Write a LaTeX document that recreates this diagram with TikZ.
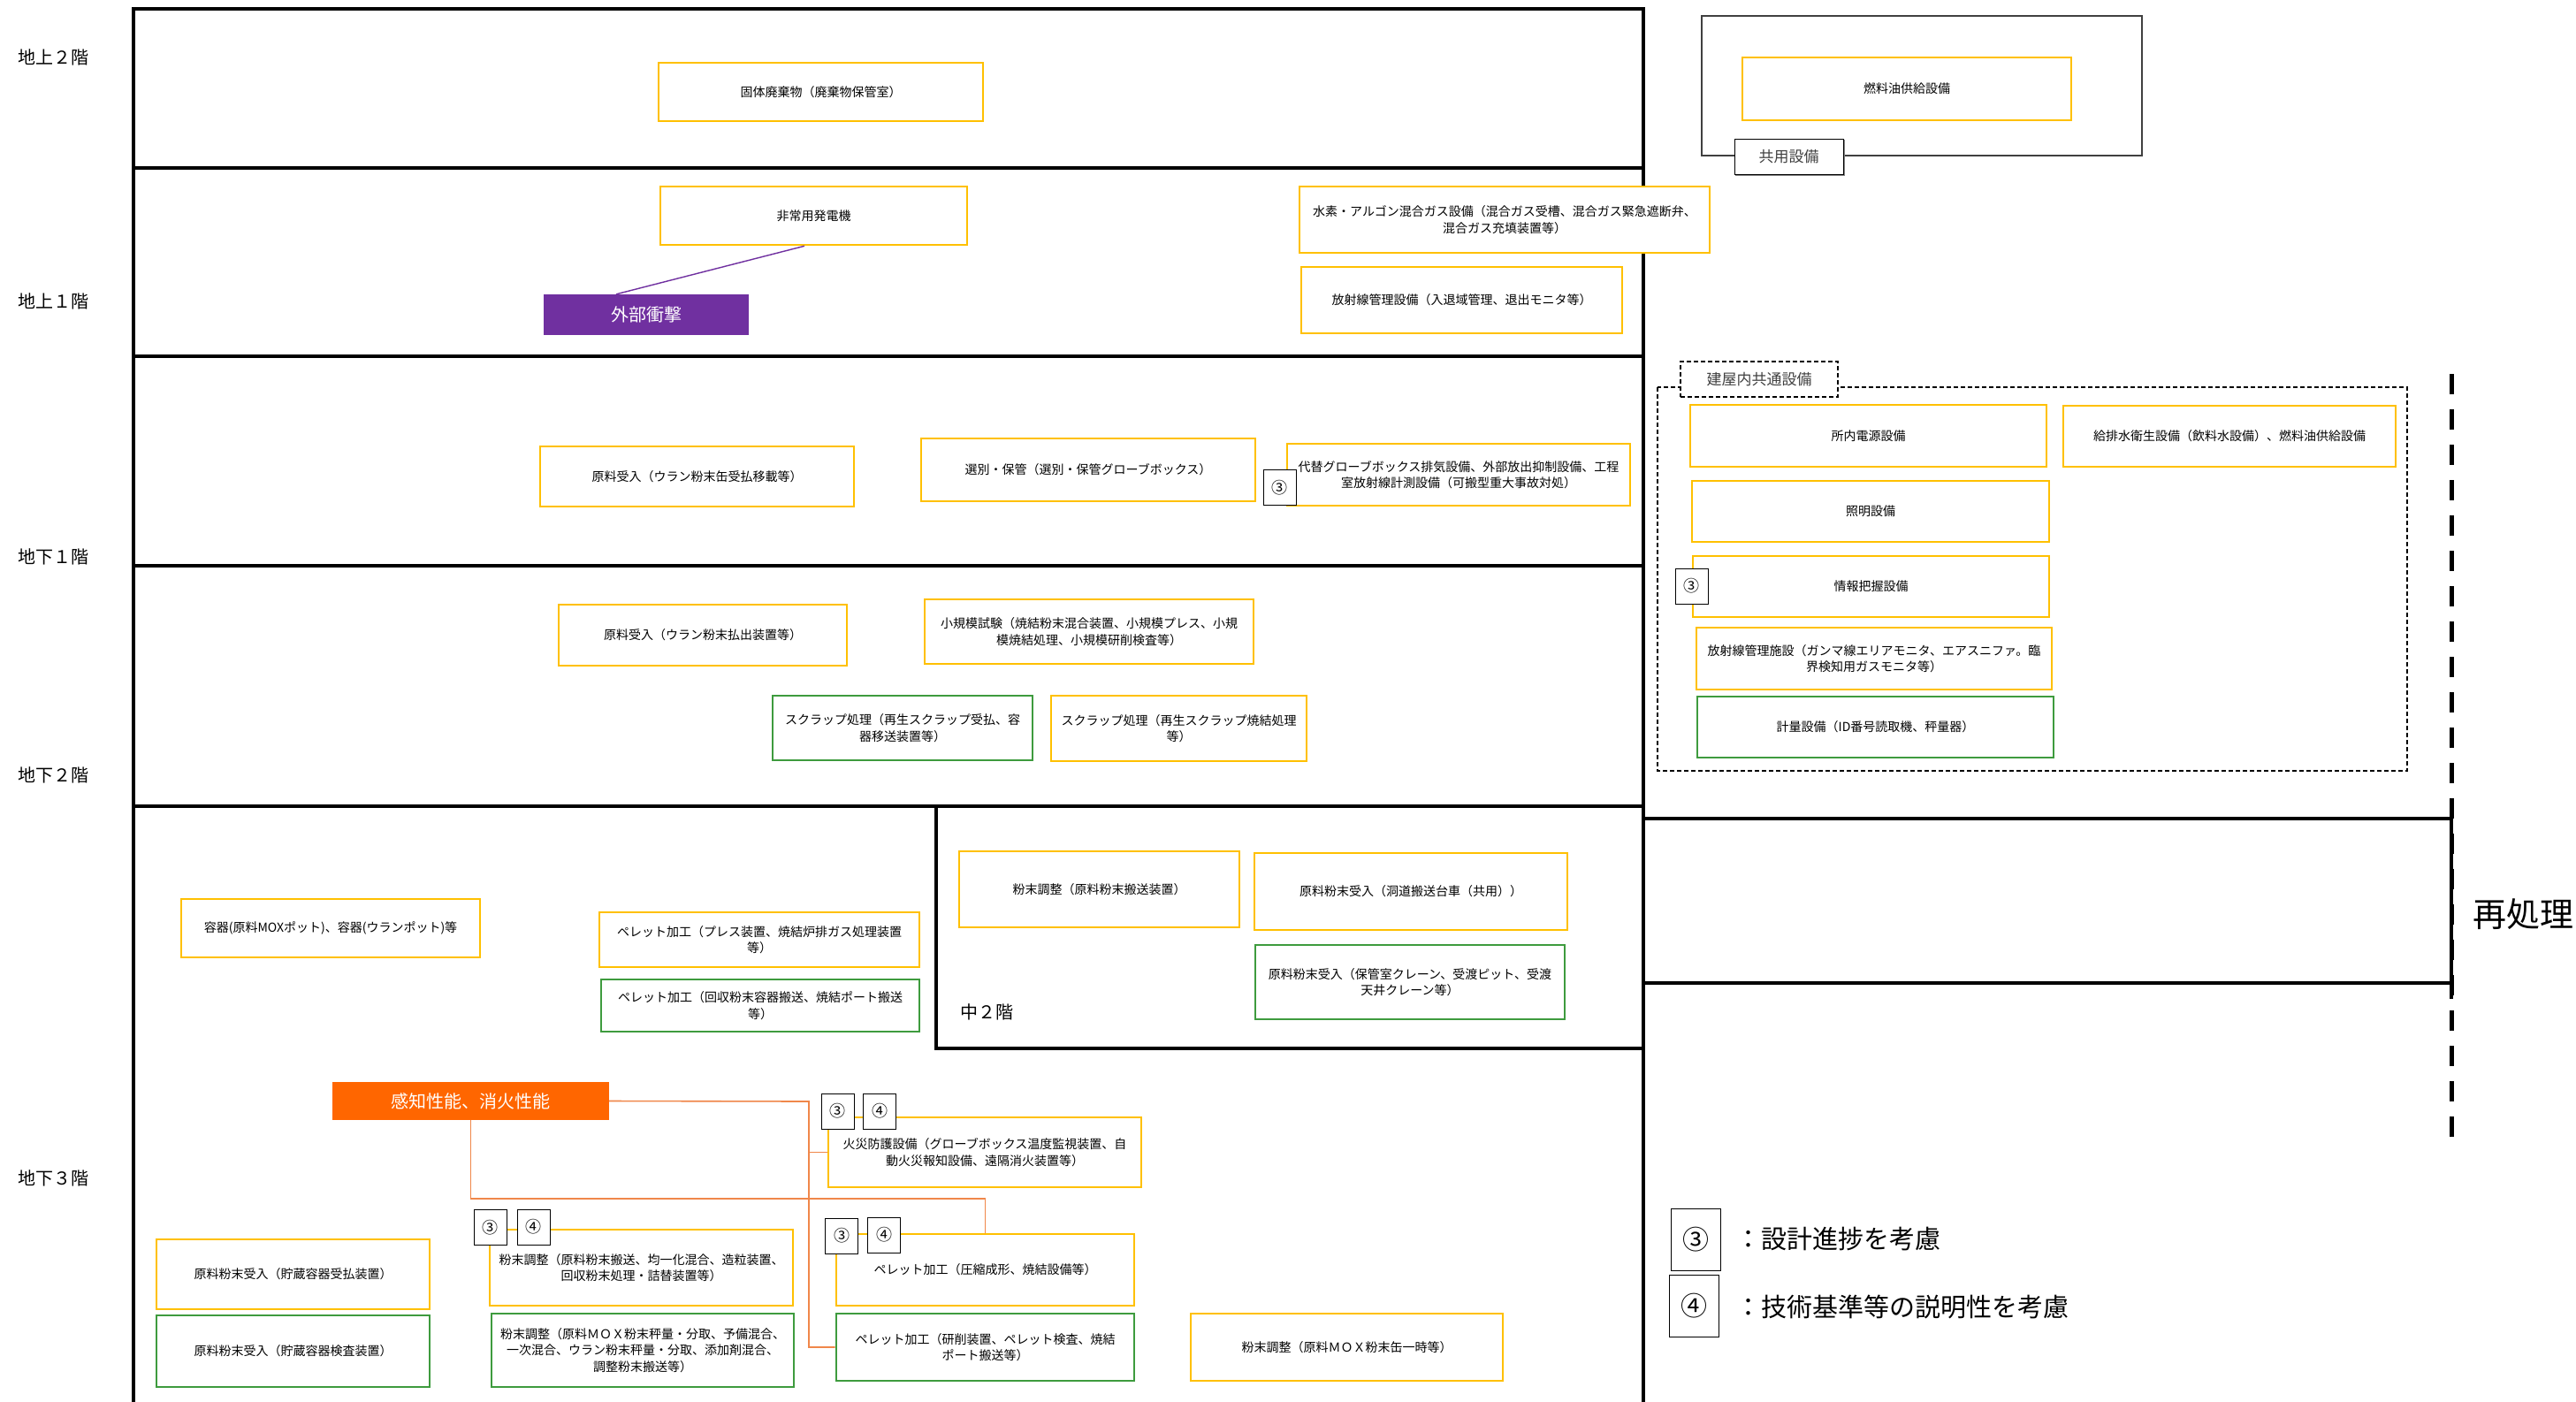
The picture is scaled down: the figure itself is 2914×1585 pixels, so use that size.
\documentclass[tikz,border=0pt]{standalone}
\usepackage{fontspec}
\setmainfont{Noto Sans CJK JP}
\definecolor{ylw}{HTML}{FFC000}
\definecolor{grn}{HTML}{3E9B3E}
\definecolor{purp}{HTML}{7030A0}
\definecolor{orn}{HTML}{FF6600}
\definecolor{ornline}{HTML}{F0874A}
\tikzset{
  bx/.style={draw, line width=2.6pt, fill=white, align=center, inner sep=0pt, font=\fontsize{14}{18.5}\selectfont},
  ybox/.style={bx, draw=ylw},
  gbox/.style={bx, draw=grn},
  numbox/.style={draw=black, line width=1pt, fill=white, minimum width=37pt, minimum height=40pt, inner sep=0pt, font=\fontsize{18}{18}\selectfont},
  legbox/.style={draw=black, line width=1pt, fill=white, minimum width=56pt, minimum height=70pt, inner sep=0pt, font=\fontsize{30}{30}\selectfont},
  wall/.style={line width=3.5pt, line cap=rect},
  floorlbl/.style={font=\fontsize{20}{20}\selectfont, inner sep=0pt},
  legtxt/.style={font=\fontsize{29}{29}\selectfont, anchor=west, inner sep=0pt},
  ornconn/.style={draw=ornline, line width=1.6pt},
}
\begin{document}
\begin{tikzpicture}[x=1pt,y=-1pt]
\useasboundingbox (0,0) rectangle (2914,1585);
\fill[white] (0,0) rectangle (2914,1585);

% building frame
\draw[wall] (151,1600) -- (151,10) -- (1859,10) -- (1859,1600);
\foreach \yy in {190,403,640,912} \draw[wall] (151,\yy) -- (1859,\yy);
\draw[wall] (1059,912) -- (1059,1186) -- (1859,1186);
% reprocessing
\draw[wall] (1859,926) -- (2773,926);
\draw[wall] (1859,1112) -- (2773,1112);
\draw[line width=5pt, dash pattern=on 23pt off 17pt] (2773,423) -- (2773,1290);
\draw[line width=4pt] (2773,907) -- (2773,1130);
\node[font=\fontsize{38}{38}\selectfont, anchor=west, inner sep=0pt] (saishori) at (2797,1034) {再処理};

% floor labels
\node[floorlbl] (f2) at (60,65) {地上２階};
\node[floorlbl] (f1) at (60,341) {地上１階};
\node[floorlbl] (b1) at (60,630) {地下１階};
\node[floorlbl] (b2) at (60,877) {地下２階};
\node[floorlbl] (b3) at (60,1333) {地下３階};
\node[floorlbl, anchor=west] (m2) at (1086,1145) {中２階};

% shared facility
\draw[line width=1.5pt, draw=black!75] (1925,18) rectangle (2423,176);
\node[ybox, minimum width=372pt, minimum height=71pt] (nenryo) at (2157,100.5) {燃料油供給設備};
\draw[draw=black!50, line width=2pt] (1963,198) -- (2086,198) -- (2086,158);
\node[draw=black, line width=1pt, fill=white, minimum width=123pt, minimum height=40pt, inner sep=0pt, text=black!75, font=\fontsize{17}{17}\selectfont] (kyoyo) at (2023.5,177) {共用設備};

% common in-building facility
\draw[line width=1.2pt, dash pattern=on 5pt off 3pt] (1875,438) rectangle (2723,872);
\node[draw=black, line width=1.2pt, dash pattern=on 5pt off 3pt, fill=white, minimum width=178pt, minimum height=40pt, inner sep=0pt, text=black!75, font=\fontsize{17}{17}\selectfont] (kyotsu) at (1990,429) {建屋内共通設備};
\node[ybox, minimum width=403pt, minimum height=70pt] (shonai) at (2113.5,493) {所内電源設備};
\node[ybox, minimum width=376pt, minimum height=69pt] (kyuhai) at (2522,493.5) {給排水衛生設備（飲料水設備）、燃料油供給設備};
\node[ybox, minimum width=404pt, minimum height=69pt] (shomei) at (2116,578.5) {照明設備};
\node[ybox, minimum width=403pt, minimum height=69pt] (joho) at (2116.5,663.5) {情報把握設備};
\node[numbox] (joho3) at (1913.5,663) {③};
\node[ybox, minimum width=402pt, minimum height=70pt] (hosha2) at (2120,745) {放射線管理施設（ガンマ線エリアモニタ、エアスニファ。臨\\界検知用ガスモニタ等）};
\node[gbox, minimum width=403pt, minimum height=69pt] (keiryo) at (2121.5,822.5) {計量設備（ID番号読取機、秤量器）};

% 2F
\node[ybox, minimum width=367pt, minimum height=66pt] (kotai) at (928.5,104) {固体廃棄物（廃棄物保管室）};
% 1F
\node[ybox, minimum width=347pt, minimum height=66pt] (hijo) at (920.5,244) {非常用発電機};
\node[fill=purp, minimum width=232pt, minimum height=46pt, inner sep=0pt, text=white, font=\fontsize{20}{20}\selectfont] (gaibu) at (731,356) {外部衝撃};
\draw[draw=purp, line width=1.4pt] ([xshift=-34pt]gaibu.north) -- ([xshift=-10.5pt]hijo.south);
\node[ybox, minimum width=464pt, minimum height=75pt] (suiso) at (1702,248.5) {水素・アルゴン混合ガス設備（混合ガス受槽、混合ガス緊急遮断弁、\\混合ガス充填装置等）};
\node[ybox, minimum width=363pt, minimum height=75pt] (hosha1) at (1653.5,339.5) {放射線管理設備（入退域管理、退出モニタ等）};

% B1
\node[ybox, minimum width=355pt, minimum height=68pt] (genryo1) at (788.5,539) {原料受入（ウラン粉末缶受払移載等）};
\node[ybox, minimum width=378pt, minimum height=71pt] (senbetsu) at (1231,531.5) {選別・保管（選別・保管グローブボックス）};
\node[ybox, minimum width=388pt, minimum height=70pt] (daitai) at (1650,537) {代替グローブボックス排気設備、外部放出抑制設備、工程\\室放射線計測設備（可搬型重大事故対処）};
\node[numbox] (daitai3) at (1447.5,551.5) {③};

% B2
\node[ybox, minimum width=326pt, minimum height=69pt] (genryo2) at (795,718.5) {原料受入（ウラン粉末払出装置等）};
\node[ybox, minimum width=372pt, minimum height=73pt] (shokibo) at (1232,714.5) {小規模試験（焼結粉末混合装置、小規模プレス、小規\\模焼結処理、小規模研削検査等）};
\node[gbox, minimum width=294pt, minimum height=73pt] (scrap1) at (1021,823.5) {スクラップ処理（再生スクラップ受払、容\\器移送装置等）};
\node[ybox, minimum width=289pt, minimum height=74pt] (scrap2) at (1333.5,824) {スクラップ処理（再生スクラップ焼結処理\\等）};

% B3 upper / mezzanine
\node[ybox, minimum width=338pt, minimum height=66pt] (yoki) at (374,1050) {容器(原料MOXポット)、容器(ウランポット)等};
\node[ybox, minimum width=362pt, minimum height=62pt] (pellet1) at (859,1063) {ペレット加工（プレス装置、焼結炉排ガス処理装置\\等）};
\node[gbox, minimum width=360pt, minimum height=59pt] (pellet2) at (860,1137.5) {ペレット加工（回収粉末容器搬送、焼結ポート搬送\\等）};
\node[ybox, minimum width=317pt, minimum height=86pt] (funm1) at (1243.5,1006) {粉末調整（原料粉末搬送装置）};
\node[ybox, minimum width=354pt, minimum height=87pt] (genfun1) at (1596,1008.5) {原料粉末受入（洞道搬送台車（共用））};
\node[gbox, minimum width=350pt, minimum height=84pt] (genfun2) at (1595,1111) {原料粉末受入（保管室クレーン、受渡ピット、受渡\\天井クレーン等）};

% B3 lower
\node[fill=orn, minimum width=313pt, minimum height=43pt, inner sep=0pt, text=white, font=\fontsize{20}{20}\selectfont] (kanchi) at (532.5,1245.5) {感知性能、消火性能};
\node[ybox, minimum width=354pt, minimum height=79pt] (kasai) at (1114,1303.5) {火災防護設備（グローブボックス温度監視装置、自\\動火災報知設備、遠隔消火装置等）};
\node[ybox, minimum width=343pt, minimum height=86pt] (funm2) at (725.5,1434) {粉末調整（原料粉末搬送、均一化混合、造粒装置、\\回収粉末処理・詰替装置等）};
\node[ybox, minimum width=337pt, minimum height=81pt] (pellet3) at (1114.5,1436.5) {ペレット加工（圧縮成形、焼結設備等）};
\node[ybox, minimum width=309pt, minimum height=79pt] (genfun3) at (331.5,1441.5) {原料粉末受入（貯蔵容器受払装置）};
\node[gbox, minimum width=309pt, minimum height=81pt] (genfun4) at (331.5,1528.5) {原料粉末受入（貯蔵容器検査装置）};
\node[gbox, minimum width=342pt, minimum height=83pt] (funm3) at (727,1527.5) {粉末調整（原料ＭＯＸ粉末秤量・分取、予備混合、\\一次混合、ウラン粉末秤量・分取、添加剤混合、\\調整粉末搬送等）};
\node[gbox, minimum width=337pt, minimum height=76pt] (pellet4) at (1114.5,1524) {ペレット加工（研削装置、ペレット検査、焼結\\ポート搬送等）};
\node[ybox, minimum width=353pt, minimum height=76pt] (funm4) at (1523.5,1524) {粉末調整（原料ＭＯＸ粉末缶一時等）};

% orange connectors
\coordinate (oj) at (915,1246);
\draw[ornconn] (kanchi.east) -- (oj) -- (oj |- pellet4.west) -- (pellet4.west);
\draw[ornconn] (oj |- kasai.west) -- (kasai.west);
\draw[ornconn] (kanchi.south) -- (kanchi.south |- 0,1356) -- (pellet3.north |- 0,1356) -- (pellet3.north);

% marker boxes
\node[numbox] (kasai3) at (947.5,1257) {③};
\node[numbox] (kasai4) at (995,1257) {④};
\node[numbox] (funm2a) at (554.5,1388.5) {③};
\node[numbox] (funm2b) at (603.5,1388) {④};
\node[numbox] (pel3a) at (952,1398) {③};
\node[numbox] (pel3b) at (1000,1397) {④};

% legend
\node[legbox] (leg3) at (1918,1402) {③};
\node[legbox] (leg4) at (1916.5,1477) {④};
\node[legtxt] (leg3t) at (1963,1402) {：設計進捗を考慮};
\node[legtxt] (leg4t) at (1963,1478) {：技術基準等の説明性を考慮};
\end{tikzpicture}
\end{document}
